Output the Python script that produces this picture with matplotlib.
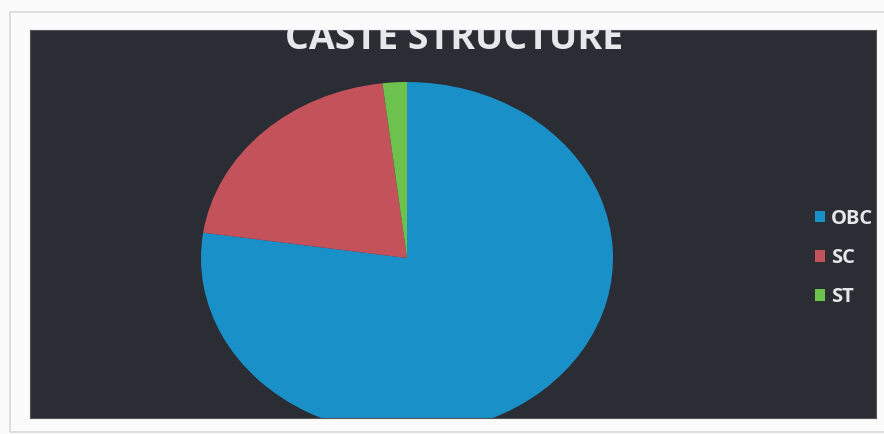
import matplotlib
matplotlib.use("Agg")
import matplotlib.pyplot as plt
from matplotlib.patches import Rectangle

# caste structure shares
labels = ["OBC", "SC", "ST"]
shares = [77.3, 20.8, 1.9]
colors = ["#1a90c9", "#c4525b", "#6cc24c"]

W, H = 884, 434
fig = plt.figure(figsize=(W / 100, H / 100), dpi=100, facecolor="#fbfbfb")

# light outer frame
fig.patches.append(Rectangle((10 / W, 2 / H), (W - 6) / W, (H - 14) / H,
                             transform=fig.transFigure, fill=False,
                             edgecolor="#d9d9d9", linewidth=1.2))

# dark chart panel
left, right, top, bottom = 30, 876, 30, 418
ax = fig.add_axes([left / W, (H - bottom) / H, (right - left) / W, (bottom - top) / H])

wedges, _ = ax.pie(shares, colors=colors, startangle=90, counterclock=False,
                   wedgeprops=dict(linewidth=0))

# pie centre at (407, 258) px, radius 206 px wide and 176 px tall
cx, cy, rx, ry = 407, 258, 206, 176
ax.set_aspect("auto")
ax.set_xlim((left - cx) / rx, (right - cx) / rx)
ax.set_ylim(-(bottom - cy) / ry, (cy - top) / ry)
ax.set_frame_on(True)
ax.set_facecolor("#2a2d33")
for s in ax.spines.values():
    s.set_color("#555555")
    s.set_linewidth(0.8)
for w in wedges:
    w.set_clip_on(True)

ax.text(0.501, 0.952, "CASTE STRUCTURE", transform=ax.transAxes,
        ha="center", va="baseline", color="#e6e8ec", fontsize=27,
        fontweight="bold", family="Open Sans", clip_on=True)

leg = ax.legend(wedges, labels, loc="center left",
                bbox_to_anchor=((815 - left) / (right - left), (bottom - 258) / (bottom - top)),
                frameon=False, labelspacing=0.95,
                handlelength=0.5, handleheight=0.5, handletextpad=0.3,
                borderpad=0, borderaxespad=0,
                prop={"family": "Open Sans", "weight": "bold", "size": 14.5})
for t in leg.get_texts():
    t.set_color("#e4e6ea")
    t.set_clip_box(ax.bbox)
    t.set_clip_on(True)

fig.savefig("out.png", dpi=100, facecolor=fig.get_facecolor())
